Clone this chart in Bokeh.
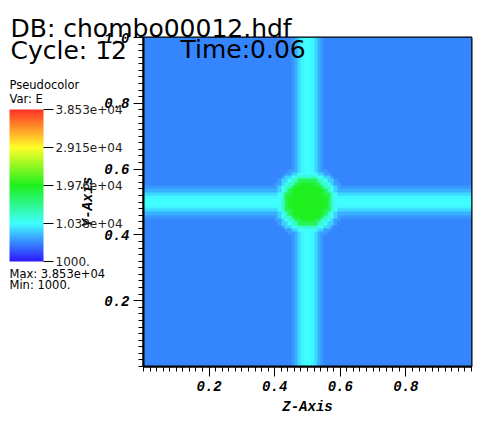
import numpy as np
from bokeh.plotting import figure
from bokeh.models import (LinearColorMapper, ColorBar, FixedTicker, Label, Range1d,
                          PrintfTickFormatter)
from bokeh.embed import file_html
from bokeh.resources import INLINE

# ---------------- data ----------------
n_cells = 100                      # cells per side of the mesh over [0,1]
e_background = 5500.0              # E far from the cross
band_E = [10400, 10000, 8800, 7200, 6200]          # E of the cross bands, by cell offset from centre line
blob_E = [19765, 19765, 19765, 19765, 19700, 19300, 17500, 12500, 10600, 8500, 6500]  # E by radius (cells) from centre
e_min, e_max = 1000.0, 38530.0
cbar_ticks = [1000.0, 10382.5, 19765.0, 29147.5, 38530.0]
cbar_labels = ["1000.", "1.038e+04", "1.976e+04", "2.915e+04", "3.853e+04"]
x_ticks = [0.2, 0.4, 0.6, 0.8]
y_ticks = [0.2, 0.4, 0.6, 0.8, 1.0]
minor_ticks = [round(0.02 * i, 2) for i in range(51)]
header_lines = ["DB: chombo00012.hdf", "Cycle: 12"]
time_text = "Time:0.06"
legend_title_lines = ["Pseudocolor", "Var: E"]
range_lines = ["Max: 3.853e+04", "Min: 1000."]

# colour table control points (fraction, r, g, b)
cmap_pos = [0.0, 0.25, 0.5, 0.75, 1.0]
cmap_r = [45, 64, 30, 255, 255]
cmap_g = [25, 255, 240, 255, 50]
cmap_b = [255, 255, 30, 40, 40]

# ---------------- build field ----------------
idx = np.arange(n_cells)
off = np.floor(np.abs(idx + 0.5 - n_cells / 2)).astype(int)
band_arr = np.array(band_E, dtype=float)
band_line = np.where(off < len(band_arr), band_arr[np.minimum(off, len(band_arr) - 1)], e_background)
IX, IY = np.meshgrid(idx, idx)
r = np.floor(np.sqrt((IX + 0.5 - n_cells / 2) ** 2 + (IY + 0.5 - n_cells / 2) ** 2)).astype(int)
blob_arr = np.array(blob_E, dtype=float)
blob_field = np.where(r < len(blob_arr), blob_arr[np.minimum(r, len(blob_arr) - 1)], e_background)
E = np.maximum(np.maximum(band_line[IX], band_line[IY]), blob_field)

# palette
t = np.linspace(0, 1, 256)
R = np.interp(t, cmap_pos, cmap_r).astype(int)
G = np.interp(t, cmap_pos, cmap_g).astype(int)
B = np.interp(t, cmap_pos, cmap_b).astype(int)
palette = ["#%02x%02x%02x" % (a, b, c) for a, b, c in zip(R, G, B)]
mapper = LinearColorMapper(palette=palette, low=e_min, high=e_max)

# ---------------- figure ----------------
p = figure(width=484, height=430, x_range=Range1d(0, 1), y_range=Range1d(0, 1),
           output_backend="svg", toolbar_location=None,
           min_border_left=143, min_border_right=13, min_border_top=37, min_border_bottom=64)
p.grid.visible = False
p.outline_line_color = "black"
p.outline_line_width = 2
p.background_fill_color = "white"
p.border_fill_color = "white"

p.image(image=[E], x=0, y=0, dw=1, dh=1, color_mapper=mapper)

axis_font = "Liberation Mono"
for ax, ticks, lab in ((p.xaxis[0], x_ticks, "Z-Axis"), (p.yaxis[0], y_ticks, "Y-Axis")):
    ax.ticker = FixedTicker(ticks=ticks, minor_ticks=minor_ticks)
    ax.formatter = PrintfTickFormatter(format="%.1f")
    ax.axis_label = lab
    ax.axis_line_color = "black"
    ax.axis_line_width = 2
    ax.major_tick_in = 0
    ax.major_tick_out = 10
    ax.minor_tick_in = 0
    ax.minor_tick_out = 5
    ax.major_tick_line_color = "black"
    ax.minor_tick_line_color = "black"
    ax.major_label_text_font = axis_font
    ax.major_label_text_font_style = "bold italic"
    ax.major_label_text_font_size = "14px"
    ax.major_label_text_color = "black"
    ax.axis_label_text_font = axis_font
    ax.axis_label_text_font_style = "bold italic"
    ax.axis_label_text_font_size = "14px"
    ax.axis_label_text_color = "black"
    ax.major_label_standoff = 4
    ax.axis_label_standoff = 5
p.yaxis[0].major_label_orientation = "horizontal"

cb = ColorBar(color_mapper=mapper, ticker=FixedTicker(ticks=cbar_ticks),
              major_label_overrides=dict(zip(cbar_ticks, cbar_labels)),
              width=34, height=152, location=(-134, 105), padding=0,
              major_tick_out=10, major_tick_in=0, major_tick_line_color="black",
              bar_line_color=None, background_fill_alpha=0, border_line_color=None,
              label_standoff=2, major_label_text_font="DejaVu Sans",
              major_label_text_font_size="12px", major_label_text_color="#222222",
              orientation="vertical")
p.add_layout(cb, "center")


# text lines outside the frame: carried as titles of transparent, bar-less colour bars
def text_line(txt, loc, size):
    tb = ColorBar(color_mapper=mapper, ticker=FixedTicker(ticks=[]), title=txt,
                  width=1, height=1, location=loc, padding=0, scale_alpha=0,
                  major_tick_line_color=None, minor_tick_line_color=None,
                  bar_line_color=None, background_fill_alpha=0, border_line_color=None,
                  title_standoff=0, title_text_font="DejaVu Sans", title_text_font_style="normal",
                  title_text_font_size=size, title_text_color="black",
                  major_label_text_font_size="1px", orientation="horizontal")
    p.add_layout(tb, "center")


text_line(header_lines[0], (-133, 323), "25px")
text_line(header_lines[1], (-133, 301), "25px")
text_line(legend_title_lines[0], (-134, 274), "11.5px")
text_line(legend_title_lines[1], (-134, 260), "11.5px")
text_line(range_lines[0], (-134, 85), "11.5px")
text_line(range_lines[1], (-134, 74), "11.5px")

p.add_layout(Label(x=37, y=317, x_units="screen", y_units="screen", text=time_text,
                   text_font="DejaVu Sans", text_font_size="25px",
                   text_baseline="alphabetic", text_color="black"))

open("out.html", "w").write(file_html(p, INLINE))
